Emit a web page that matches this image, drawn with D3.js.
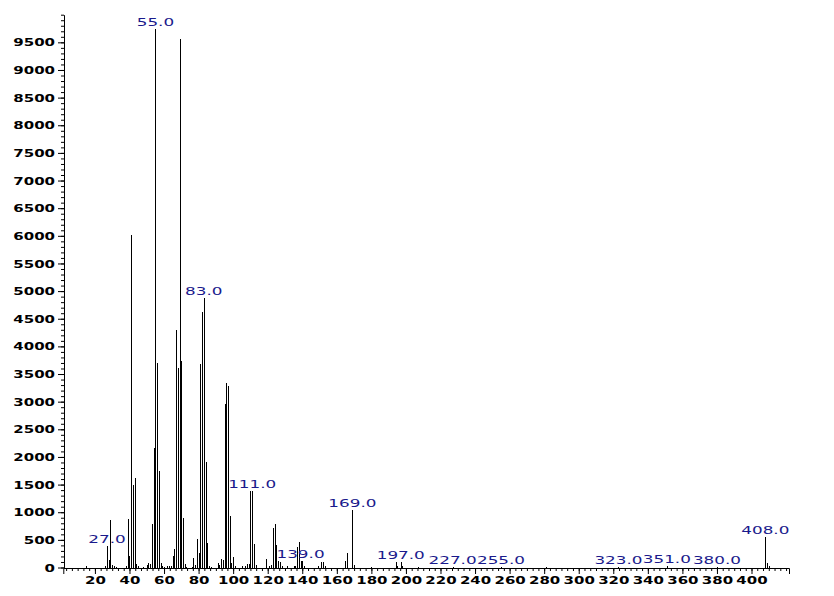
<!DOCTYPE html>
<html>
<head>
<meta charset="utf-8">
<script src="https://cdn.jsdelivr.net/npm/d3@7"></script>
<style>
  body { margin: 0; background: #fff; }
  text { font-family: "DejaVu Sans", sans-serif; font-size: 10px; font-weight: bold; }
</style>
</head>
<body>
<div class="core_div"></div>
<script>
// m/z values and their abundances
const MZ = [15, 26, 27, 28, 29, 30, 31, 32, 38, 39, 40, 41, 42, 43, 44, 45, 48, 50, 51, 52,
  53, 54, 55, 56, 57, 58, 59, 60, 62, 63, 64, 65, 66, 67, 68, 69, 70, 71, 72, 73,
  76, 77, 78, 79, 80, 81, 82, 83, 84, 85, 86, 87, 91, 92, 93, 94, 95, 96, 97, 98,
  99, 100, 101, 105, 107, 108, 109, 110, 111, 112, 113, 119, 121, 122, 123, 124, 125, 126, 127, 128,
  131, 135, 136, 137, 138, 139, 140, 141, 149, 151, 152, 153, 165, 166, 169, 170, 180, 194, 195, 197,
  198, 207, 227, 255, 281, 323, 351, 380, 408, 409, 410];
const ABUND = [20, 20, 380, 130, 860, 40, 30, 15, 20, 880, 210, 6010, 1490, 1620, 70, 20, 15, 40, 90, 60,
  790, 2160, 9750, 3700, 1750, 90, 20, 10, 20, 25, 20, 215, 335, 4290, 3610, 9560, 3730, 890, 55, 15,
  10, 175, 50, 515, 265, 3680, 4615, 4875, 1910, 445, 25, 10, 90, 40, 160, 140, 2960, 3340, 3280, 930,
  90, 195, 20, 20, 35, 65, 70, 1385, 1385, 420, 40, 155, 20, 50, 720, 790, 400, 110, 100, 20,
  30, 25, 30, 370, 470, 110, 110, 30, 30, 95, 95, 30, 115, 260, 1040, 40, 15, 100, 30, 95,
  25, 15, 15, 15, 10, 15, 20, 15, 560, 85, 20];

// peaks that carry an m/z label
const LABELED = [27, 55, 83, 111, 139, 169, 197, 227, 255, 323, 351, 380, 408];

const Y_TICKS = d3.range(0, 10000, 500);
const X_TICKS = d3.range(20, 401, 20);

const STRETCH = 1.5;       // the instrument font is wide and flat
const LABEL_STRETCH = 1.68;

var width = 834, height = 596;

var svg = d3.select(".core_div").append("svg")
    .attr("width", width)
    .attr("height", height);

var x = d3.scaleLinear().domain([1.7, 421.7]).range([63.3, 789]);
var y = d3.scaleLinear().domain([0, 10000]).range([567.5, 14.7]);

var peaks = MZ.map(function(m, i) { return {mz: m, ab: ABUND[i]}; });
var abOf = {};
peaks.forEach(function(d) { abOf[d.mz] = d.ab; });

function styleLabels(sel) {
  sel.attr("transform", "scale(" + STRETCH + ",1)")
      .attr("fill", "#000")
      .style("font-family", "DejaVu Sans")
      .style("font-size", "10px")
      .style("font-weight", "bold");
}

// ****************** axes ***************************

var yAxisG = svg.append("g").attr("transform", "translate(64,0)");

// minor ticks every 100
yAxisG.append("g")
    .call(d3.axisLeft(y).tickValues(d3.range(0, 10001, 100)).tickSize(3).tickFormat(""))
    .call(function(g) { g.select(".domain").remove(); });

yAxisG.append("g")
    .call(d3.axisLeft(y).tickValues(Y_TICKS).tickSize(6).tickSizeOuter(0).tickFormat(d3.format("d")))
    .call(function(g) {
      g.selectAll("text")
          .attr("x", -9 / STRETCH)
          .attr("dy", "0.36em")
          .call(styleLabels);
    });

var xAxisG = svg.append("g").attr("transform", "translate(0,568)");

xAxisG.append("g")
    .call(d3.axisBottom(x).tickValues(d3.range(10 / 3, 421, 10 / 3)).tickSize(3).tickFormat(""))
    .call(function(g) { g.select(".domain").remove(); });

xAxisG.append("g")
    .call(d3.axisBottom(x).tickValues(X_TICKS).tickSize(6).tickSizeOuter(6).tickFormat(d3.format("d")))
    .call(function(g) {
      g.selectAll("text")
          .attr("y", 16.5)
          .attr("dy", "0")
          .call(styleLabels);
    });

// ****************** peaks ***************************

svg.append("g")
    .selectAll("line")
    .data(peaks)
  .enter().append("line")
    .attr("x1", function(d) { return Math.round(x(d.mz)) + 0.5; })
    .attr("x2", function(d) { return Math.round(x(d.mz)) + 0.5; })
    .attr("y1", y(0))
    .attr("y2", function(d) { return y(d.ab); })
    .attr("stroke", "#000")
    .attr("stroke-width", 1)
    .attr("shape-rendering", "crispEdges");

svg.append("g")
    .selectAll("text")
    .data(LABELED)
  .enter().append("text")
    .attr("transform", function(m) {
      return "translate(" + x(m) + "," + (y(abOf[m]) - 3) + ") scale(" + LABEL_STRETCH + ",1)";
    })
    .attr("text-anchor", "middle")
    .attr("fill", "#1a1a8c")
    .style("font-weight", "normal")
    .text(function(m) { return m.toFixed(1); });
</script>
</body>
</html>
